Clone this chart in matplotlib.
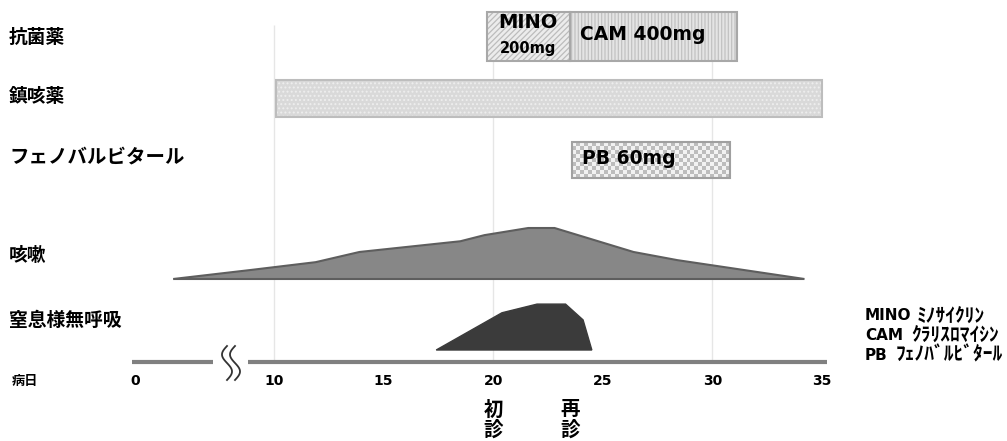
import numpy as np
import matplotlib
matplotlib.use('Agg')
import matplotlib.pyplot as plt
from matplotlib.patches import Rectangle

plt.rcParams['font.family'] = ['DejaVu Sans', 'Noto Sans CJK JP']
plt.rcParams['hatch.linewidth'] = 0.9

# ---- data (x in 病日, broken axis: values < 10 are compressed) ----
row_labels = ['抗菌薬', '鎮咳薬', 'フェノバルビタール', '咳嗽', '窒息様無呼吸']
mino_days = (19.7, 23.5)
cam_days = (23.5, 31.1)
antitussive_days = (10.1, 35.0)
pb_days = (23.6, 30.8)

cough_x = [5.4, 9.0, 11.9, 13.9, 18.5, 19.6, 21.6, 22.8, 26.4, 28.4, 34.2]
cough_lv = [0, 18, 33, 53, 74, 86, 100, 100, 53, 37, 0]
apnea_x = [17.4, 20.4, 22.0, 23.3, 24.1, 24.5]
apnea_lv = [0, 73, 90, 90, 59, 0]

tick_pos = [3.66, 10, 15, 20, 25, 30, 35]
tick_labels = ['0', '10', '15', '20', '25', '30', '35']
visits = [(20.0, '初\n診'), (23.5, '再\n診')]

legend_abbr = ['MINO', 'CAM', 'PB']
legend_kana = ['ﾐﾉｻｲｸﾘﾝ', 'ｸﾗﾘｽﾛﾏｲｼﾝ', 'ﾌｪﾉﾊﾞﾙﾋﾞﾀｰﾙ']

W, H = 1007, 441
fig = plt.figure(figsize=(W / 100, H / 100), dpi=100)
ax = fig.add_axes([0, 0, 1, 1])
ax.axis('off')


def day(px):
    return -2.5 + px / 21.92


def ftext(x, y, s, **kw):
    fig.text(x / W, 1 - y / H, s, **kw)


# grid lines
ax.vlines([10, 20, 30], 25, 360, color='#e6e6e6', lw=1, zorder=0)


def bar(span, yc, h, face, hatch, hcolor, edge='#a8a8a8'):
    ax.barh(yc, span[1] - span[0], left=span[0], height=h, color=face,
            hatch=hatch, edgecolor=hcolor, lw=0, zorder=2)
    ax.barh(yc, span[1] - span[0], left=span[0], height=h, fill=False,
            edgecolor=edge, lw=1.5, zorder=3)


bar(mino_days, 36.5, 49, '#ececec', '//////', '#bcbcbc')
bar(cam_days, 36.5, 49, '#e4e4e4', '|||||', '#c2c2c2')
bar(antitussive_days, 98.5, 37, '#d9d9d9', '....', '#eeeeee', edge='#bdbdbd')

# PB: checkerboard
n_cols, n_rows = 40, 9
checker = (np.add.outer(np.arange(n_rows), np.arange(n_cols)) % 2).astype(float)
im = ax.imshow(checker, cmap=matplotlib.colors.ListedColormap(['#f2f2f2', '#bdbdbd']),
               extent=(pb_days[0], pb_days[1], 178, 142), aspect='auto',
               interpolation='nearest', zorder=2)
clip = Rectangle((pb_days[0], 142), pb_days[1] - pb_days[0], 36,
                 transform=ax.transData, facecolor='none')
im.set_clip_path(clip)
ax.barh(160, pb_days[1] - pb_days[0], left=pb_days[0], height=36, fill=False,
        edgecolor='#a0a0a0', lw=1.5, zorder=3)

# bar texts
mid = (mino_days[0] + mino_days[1]) / 2
ax.text(mid, 23, 'MINO', ha='center', va='center', fontsize=14, fontweight='bold', zorder=4)
ax.text(mid, 48, '200mg', ha='center', va='center', fontsize=10.5, fontweight='bold', zorder=4)
ax.text(cam_days[0] + 0.45, 35, 'CAM 400mg', ha='left', va='center', fontsize=13.5,
        fontweight='bold', zorder=4)
ax.text(pb_days[0] + 0.45, 159, 'PB 60mg', ha='left', va='center', fontsize=13.5,
        fontweight='bold', zorder=4)

# symptom curves
cough_y = [279 - v * 0.51 for v in cough_lv]
ax.fill(cough_x, cough_y, facecolor='#878787', edgecolor='#5e5e5e', lw=1.5, zorder=2)
apnea_y = [350 - v * 0.51 for v in apnea_lv]
ax.fill(apnea_x, apnea_y, facecolor='#3b3b3b', edgecolor='#3b3b3b', lw=1, zorder=2)

# broken axis
ax.plot([day(132), day(213)], [362, 362], color='#808080', lw=3, solid_capstyle='butt')
ax.plot([day(248), day(827)], [362, 362], color='#808080', lw=3, solid_capstyle='butt')
t = np.linspace(0, 1, 60)
for xc in (227, 235):
    ax.plot(day(xc - 5 * np.sin(2 * np.pi * t)), 346 + 34 * t, color='#333333', lw=1.3)

for p, lab in zip(tick_pos, tick_labels):
    ax.text(p, 381, lab, ha='center', va='center', fontsize=10, fontweight='bold')

for p, lab in visits:
    ax.text(p, 420, lab, ha='center', va='center', fontsize=14, fontweight='bold',
            family=['Noto Sans CJK JP'], linespacing=1.05)

# row labels
label_y = [37, 97, 157, 255, 320]
label_size = [13.5, 13.5, 14, 13.5, 13.5]
for lab, y, s in zip(row_labels, label_y, label_size):
    ftext(9, y, lab, ha='left', va='center', fontsize=s, fontweight='bold',
          family=['Noto Sans CJK JP'])
ftext(12, 381, '病日', ha='left', va='center', fontsize=9.5, fontweight='bold',
      family=['Noto Sans CJK JP'])

# abbreviations
kana_x = [917, 911, 896]
for i, (a, k) in enumerate(zip(legend_abbr, legend_kana)):
    yy = 316 + i * 19.5
    ftext(865, yy, a, ha='left', va='center', fontsize=11, fontweight='bold')
    ftext(kana_x[i], yy, k, ha='left', va='center', fontsize=14, fontweight='bold',
          family=['Noto Sans CJK JP'])

ax.set_xlim(-2.5, -2.5 + W / 21.92)
ax.set_ylim(H, 0)

fig.savefig('out.png', dpi=100)
